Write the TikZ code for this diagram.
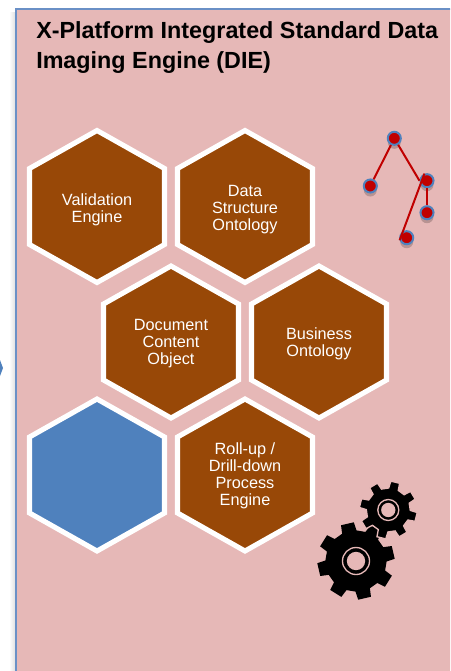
\documentclass[tikz,border=0pt]{standalone}
\usepackage{fontspec}
\setmainfont{Liberation Sans}
\usepackage{tikz}
\usetikzlibrary{shadows}
\usetikzlibrary{calc}
\definecolor{panelpink}{HTML}{E6B8B7}
\definecolor{panelblue}{HTML}{6A90C6}
\definecolor{hexbrown}{HTML}{984807}
\definecolor{hexblue}{HTML}{4F81BD}
\definecolor{treered}{HTML}{C00000}
\tikzstyle{hexcell}=[draw=white,line width=3.8pt,line join=miter]
\tikzstyle{hexlabel}=[text=white,align=center,font=\fontsize{12.2}{12.75}\selectfont,inner sep=0pt]
\tikzstyle{treenode}=[circle,fill=treered,draw=hexblue,line width=1.5pt,minimum size=9.8pt,inner sep=0pt,
  drop shadow={shadow xshift=0pt,shadow yshift=-3pt,opacity=.2,fill=black}]
\tikzstyle{treeedge}=[treered,line width=1.5pt]
% one hexagon, centre given in pixels of the reference
\newcommand{\hexshape}[3]{
  \draw [hexcell,fill=#3] (#1,#2-76) -- (#1+67.5,#2-38) -- (#1+67.5,#2+38) -- (#1,#2+76)
    -- (#1-67.5,#2+38) -- (#1-67.5,#2-38) -- cycle;
}
% one gear: centre x, centre y, root radius, tip radius, start angle, hub radius, edge colour
\newcommand{\gearshape}[7]{
  \filldraw [fill=black,draw=#7,line width=1pt] ($(#1,#2)+(#5-13:#3)$)
    \foreach \k in {0,...,7} {
      -- ($(#1,#2)+(#5+\k*45-13:#3)$) -- ($(#1,#2)+(#5+\k*45-9:#4)$)
      -- ($(#1,#2)+(#5+\k*45+9:#4)$) -- ($(#1,#2)+(#5+\k*45+13:#3)$)
    } -- cycle;
  \draw [panelpink,line width=1pt] (#1,#2) circle ({#6});
  \fill [panelpink] (#1,#2) circle ({#6*0.68});
}
\begin{document}
\begin{tikzpicture}[x=0.75pt,y=-0.75pt]
\useasboundingbox (0,0) rectangle (450,671);
\clip (0,0) rectangle (450,671);
% panel
\shade [left color=white,right color=black!12] (9,12) rectangle (15,671);
\fill [hexblue] (0,360) -- (3,368) -- (0,376) -- cycle;
\draw [panelblue,line width=1.5pt,fill=panelpink] (15.5,8.5) rectangle (470,690);
\node [anchor=north west,align=left,inner sep=0pt,font=\fontsize{17.5}{22.2}\selectfont\bfseries] (title) at (36,21.5)
  {X-Platform Integrated Standard Data\\Imaging Engine (DIE)};
% hexagons
\hexshape{97}{206.5}{hexbrown}
\hexshape{245}{206.5}{hexbrown}
\hexshape{171}{342}{hexbrown}
\hexshape{319}{342}{hexbrown}
\hexshape{97}{475}{hexblue}
\hexshape{245}{475}{hexbrown}
\node [hexlabel] (validation) at (97,210) {Validation\\Engine};
\node [hexlabel] (structure) at (245,210) {Data\\Structure\\Ontology};
\node [hexlabel] (document) at (171,343.5) {Document\\Content\\Object};
\node [hexlabel] (business) at (319,343.5) {Business\\Ontology};
\node [hexlabel] (rollup) at (245,476) {Roll-up /\\Drill-down\\Process\\Engine};
% tree
\node [treenode] (root) at (394.3,138.3) {};
\node [treenode] (left) at (370.3,186) {};
\node [treenode] (right) at (427,180.7) {};
\node [treenode] (lower) at (427,212.7) {};
\node [treenode] (bottom) at (406.7,237.7) {};
\draw [treeedge] (root) -- (left);
\draw [treeedge] (root) -- (right.west);
\draw [treeedge] (right.110) -- (bottom.200);
\draw [treeedge] (right) -- (lower);
% gears
\gearshape{356}{561}{30}{38}{-13}{13.5}{black}
\gearshape{388.3}{510}{22}{29}{14}{10.5}{panelpink}
\end{tikzpicture}
\end{document}
